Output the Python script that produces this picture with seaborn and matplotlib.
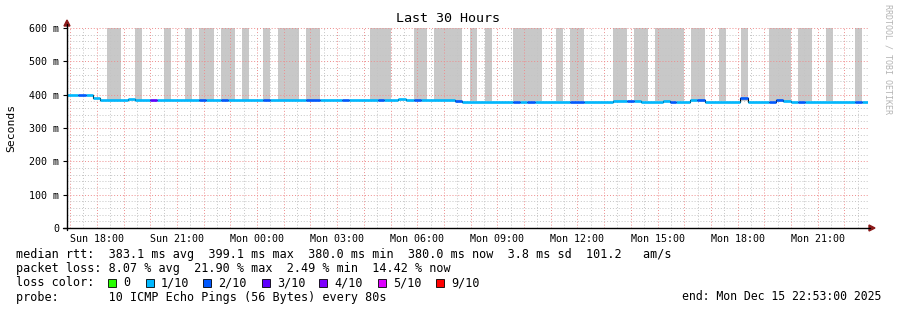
import numpy as np
import pandas as pd
import matplotlib
matplotlib.use("Agg")
import matplotlib.pyplot as plt
import seaborn as sns
from matplotlib.patches import Rectangle, Polygon

# ---------------- data (hours since start 16:53 Sun) ----------------
seg_start = [0.00, 0.41, 0.71, 0.98, 1.23, 2.29, 2.55, 3.11, 3.38, 4.95, 5.21, 5.78,
             6.04, 7.35, 7.61, 8.96, 9.49, 10.31, 10.58, 11.63, 11.89, 12.41, 12.68,
             12.98, 13.24, 14.55, 14.81, 16.69, 16.95, 17.21, 17.51, 18.83, 19.35,
             20.44, 20.96, 21.23, 21.49, 22.31, 22.58, 22.80, 23.33, 23.59, 23.89,
             25.20, 25.50, 26.29, 26.55, 26.81, 27.11, 27.38, 27.64, 29.51, 29.78]
seg_ms = [399, 399, 399, 391, 383, 386, 383, 383, 383, 383, 383, 383,
          383, 383, 383, 383, 383, 383, 383, 383, 383, 387, 383,
          383, 383, 382, 379, 379, 379, 379, 379, 379, 379,
          381, 382, 382, 379, 381, 379, 379, 385, 384, 379,
          389, 379, 379, 383, 382, 379, 379, 379, 379, 379]
seg_loss = ["1/10", "2/10", "1/10", "1/10", "1/10", "1/10", "1/10", "3/10", "1/10", "2/10", "1/10", "2/10",
            "1/10", "2/10", "1/10", "2/10", "1/10", "2/10", "1/10", "2/10", "1/10", "1/10", "1/10",
            "2/10", "1/10", "2/10", "1/10", "2/10", "1/10", "2/10", "1/10", "2/10", "1/10",
            "1/10", "2/10", "1/10", "1/10", "1/10", "2/10", "1/10", "1/10", "2/10", "1/10",
            "2/10", "1/10", "2/10", "2/10", "1/10", "1/10", "2/10", "1/10", "2/10", "1/10"]
range_hours = 30.0

smoke_start = [1.50, 2.55, 3.64, 4.43, 4.95, 5.78, 6.56, 7.35, 7.91, 8.96, 11.36, 12.98,
               13.76, 15.08, 15.64, 16.69, 18.30, 18.83, 20.44, 21.23, 22.01, 23.36,
               24.41, 25.24, 26.29, 27.38, 28.43, 29.51]
smoke_end = [2.03, 2.81, 3.90, 4.69, 5.51, 6.30, 6.83, 7.61, 8.70, 9.49, 12.15, 13.50,
             14.81, 15.34, 15.90, 17.78, 18.56, 19.35, 20.96, 21.75, 23.10, 23.89,
             24.68, 25.50, 27.11, 27.90, 28.69, 29.78]
smoke_bottom = 381
smoke_top = 600

loss_labels = ["0", "1/10", "2/10", "3/10", "4/10", "5/10", "9/10"]
loss_colors = ["#26ff00", "#00b8ff", "#0059ff", "#5e00ff", "#7e00ff", "#dd00ff", "#ff0000"]

y_ticks = [0, 100, 200, 300, 400, 500, 600]
y_tick_labels = ["0", "100 m", "200 m", "300 m", "400 m", "500 m", "600 m"]
first_label_h = 67 / 60
x_tick_labels = ["Sun 18:00", "Sun 21:00", "Mon 00:00", "Mon 03:00", "Mon 06:00",
                 "Mon 09:00", "Mon 12:00", "Mon 15:00", "Mon 18:00", "Mon 21:00"]

title = "Last 30 Hours"
rtt_line = "median rtt:  383.1 ms avg  399.1 ms max  380.0 ms min  380.0 ms now  3.8 ms sd  101.2   am/s"
loss_line = "packet loss: 8.07 % avg  21.90 % max  2.49 % min  14.42 % now"
probe_line = "probe:       10 ICMP Echo Pings (56 Bytes) every 80s"
end_text = "end: Mon Dec 15 22:53:00 2025"

# ---------------- figure ----------------
sns.set_theme(style="white")
plt.rcParams['font.family'] = ['DejaVu Sans Mono']

W, H = 897, 310
L, R, T, B = 67, 868, 28, 228
fig = plt.figure(figsize=(W / 100, H / 100), dpi=100)
fig.patch.set_facecolor("white")
ax = fig.add_axes([L / W, 1 - B / H, (R - L) / W, (B - T) / H])
ax.set_facecolor("white")
ax.set_xlim(0, range_hours)
ax.set_ylim(0, 600)

# smoke bars
widths = [e - s for s, e in zip(smoke_start, smoke_end)]
ax.bar(smoke_start, [smoke_top - smoke_bottom] * len(smoke_start), width=widths,
       bottom=smoke_bottom, align="edge", color="#c8c8c8", linewidth=0, zorder=1)

# grid
for h in np.arange(7 / 60, range_hours, 1.0):
    ax.axvline(h, color="#ee8c8c", lw=0.7, ls=(0, (1, 2)), zorder=2)
for h in np.arange(37 / 60, range_hours, 1.0):
    ax.axvline(h, color="#c4c4c4", lw=0.7, ls=(0, (1, 2)), zorder=2)
for v in range(20, 601, 20):
    if v % 100 == 0:
        ax.axhline(v, color="#ee8c8c", lw=0.7, ls=(0, (1, 2)), zorder=2)
    else:
        ax.axhline(v, color="#c4c4c4", lw=0.7, ls=(0, (1, 2)), zorder=2)

# median line: thin black step underneath, then coloured segments by loss
t_all = seg_start + [range_hours]
ms_all = seg_ms + [seg_ms[-1]]
ax.step(t_all, ms_all, where="post", color="black", lw=0.8, zorder=3)

rows = []
for i, (s, v, l) in enumerate(zip(seg_start, seg_ms, seg_loss)):
    e = seg_start[i + 1] if i + 1 < len(seg_start) else range_hours
    rows.append({"seg": i, "t": s, "ms": v, "loss": l})
    rows.append({"seg": i, "t": e, "ms": v, "loss": l})
df = pd.DataFrame(rows)
sns.lineplot(data=df, x="t", y="ms", hue="loss", units="seg", estimator=None,
             palette=dict(zip(loss_labels, loss_colors)), lw=1.9, legend=False,
             sort=False, ax=ax, zorder=4, solid_capstyle="butt")

# ticks
ax.set_yticks(y_ticks, y_tick_labels)
ax.set_xticks([first_label_h + 3 * i for i in range(len(x_tick_labels))], x_tick_labels)
ax.tick_params(axis="y", length=3, width=0.8, color="black", pad=2.5, labelsize=7.2,
               left=True, labelcolor="black")
ax.tick_params(axis="x", length=0, pad=4.5, labelsize=7.2, bottom=True, labelcolor="black")
ax.set_xlabel("")
ax.set_ylabel("")
for sp in ax.spines.values():
    sp.set_visible(False)
ax.grid(False)

# overlay in pixel coordinates
ov = fig.add_axes([0, 0, 1, 1], zorder=10)
ov.set_xlim(0, W)
ov.set_ylim(H, 0)
ov.axis("off")
ov.patch.set_alpha(0)

# axes lines with arrows
ov.plot([L, L], [B + 2, 24], color="black", lw=1)
ov.plot([L - 4, R + 2], [B, B], color="black", lw=1)
ov.add_patch(Polygon([[L - 3, 26], [L + 3, 26], [L, 20]], closed=True, color="#8b1a1a"))
ov.add_patch(Polygon([[R + 1, B - 3], [R + 1, B + 3], [R + 7, B]], closed=True, color="#8b1a1a"))

ov.text(448, 19, title, ha="center", va="center", fontsize=9.6, color="black")
ov.text(11, 128, "Seconds", ha="center", va="center", rotation=90, fontsize=8.2, color="black")
ov.text(888, 59, "RRDTOOL / TOBI OETIKER", ha="center", va="center", rotation=-90,
        fontsize=6.0, color="#b4b4b4")

fs = 8.5
ov.text(16, 254.5, rtt_line, ha="left", va="center", fontsize=fs, color="black")
ov.text(16, 268.5, loss_line, ha="left", va="center", fontsize=fs, color="black")
ov.text(16, 283, "loss color:", ha="left", va="center", fontsize=fs, color="black")
sq_x = [108, 146, 203, 262, 319, 378, 436]
for x, lab, col in zip(sq_x, loss_labels, loss_colors):
    ov.add_patch(Rectangle((x, 279), 8, 8, facecolor=col, edgecolor="black", lw=0.6))
    ov.text(x + 15, 283, lab, ha="left", va="center", fontsize=fs, color="black")
ov.text(16, 297, probe_line, ha="left", va="center", fontsize=fs, color="black")
ov.text(881, 297, end_text, ha="right", va="center", fontsize=8.3, color="black")

fig.savefig("out.png", dpi=100, facecolor="white")
